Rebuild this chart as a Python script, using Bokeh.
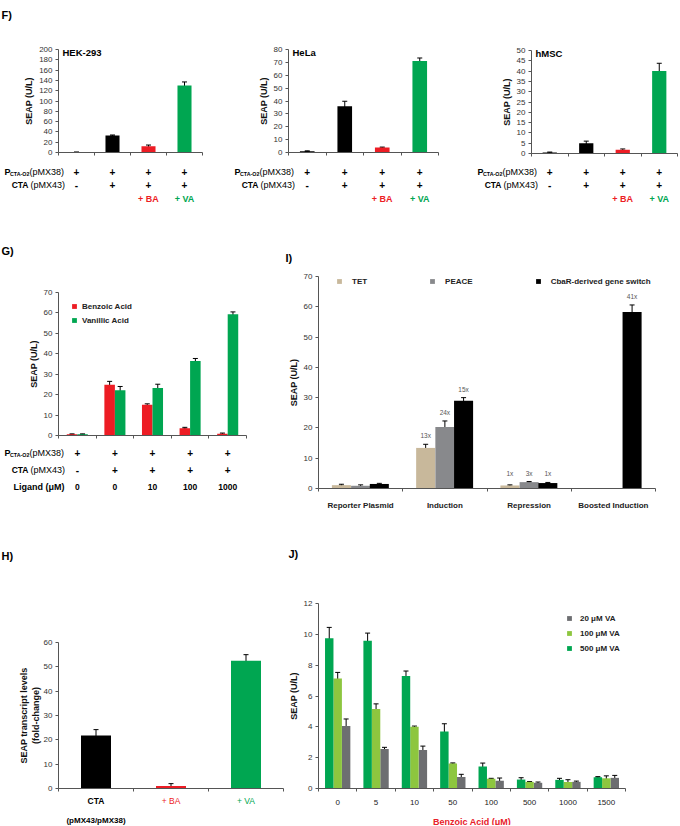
from bokeh.plotting import figure
from bokeh.models import (Range1d, ColumnDataSource, LabelSet, Whisker, TeeHead,
                          FixedTicker, SingleIntervalTicker, LinearAxis)
from bokeh.layouts import row, column
from bokeh.embed import file_html
from bokeh.resources import INLINE
from bokeh.core.properties import value, field

FONT = "Liberation Sans"
RED = "#ed1c24"
GREEN = "#00a651"
LIGHT_GREEN = "#8dc63f"
DARK_GREY = "#6d6e71"
TAN = "#c8b89b"
MID_GREY = "#88898c"
BLACK = "#000000"
AXIS = "#555555"
TICK_TXT = "#333333"

# ---------------- data ----------------
# F) cell lines
f_cells = ["HEK-293", "HeLa", "hMSC"]
f_row_pmx38 = ["+", "+", "+", "+"]
f_row_pmx43 = ["-", "+", "+", "+"]
f_row_ligand = ["", "", "+ BA", "+ VA"]
f_ligand_colors = [BLACK, BLACK, RED, GREEN]
f_bar_colors = [BLACK, BLACK, RED, GREEN]
hek_seap = [0.6, 33.0, 12.0, 130.0]
hek_err = [0.3, 1.0, 2.5, 7.0]
hela_seap = [1.0, 36.0, 3.8, 71.0]
hela_err = [0.3, 3.8, 0.4, 2.4]
hmsc_seap = [0.5, 5.0, 1.8, 40.0]
hmsc_err = [0.2, 1.0, 0.4, 3.8]
f_ymax = [200, 80, 50]
f_ystep = [20, 10, 5]

# G) ligand dose response
g_row_pmx38 = ["+", "+", "+", "+", "+"]
g_row_pmx43 = ["-", "+", "+", "+", "+"]
g_ligand_um = ["0", "0", "10", "100", "1000"]
g_benzoic = [0.6, 24.8, 15.0, 3.6, 0.9]
g_benzoic_err = [0.2, 1.7, 0.5, 0.4, 0.3]
g_vanillic = [0.6, 22.2, 23.2, 36.5, 59.4]
g_vanillic_err = [0.2, 1.8, 1.9, 1.2, 1.1]

# H) transcript levels
h_conditions = ["CTA", "+ BA", "+ VA"]
h_fold = [21.8, 1.0, 52.5]
h_fold_err = [2.4, 1.0, 2.5]
h_label_colors = [BLACK, RED, GREEN]
h_label_styles = ["bold", "normal", "normal"]

# I) comparison of gene switches
i_groups = ["Reporter Plasmid", "Induction", "Repression", "Boosted Induction"]
i_series = ["TET", "PEACE", "CbaR-derived gene switch"]
i_tet = [1.1, 13.4, 1.0, None]
i_tet_err = [0.3, 1.2, 0.2, None]
i_tet_fold = ["", "13x", "1x", ""]
i_peace = [0.9, 20.3, 2.1, None]
i_peace_err = [0.3, 2.0, 0.2, None]
i_peace_fold = ["", "24x", "3x", ""]
i_cbar = [1.5, 29.0, 1.8, 58.3]
i_cbar_err = [0.2, 1.0, 0.2, 2.3]
i_cbar_fold = ["", "15x", "1x", "41x"]

# J) BA titration
j_benzoic_um = ["0", "5", "10", "50", "100", "500", "1000", "1500"]
j_va_series = ["20 \u03bcM VA", "100 \u03bcM VA", "500 \u03bcM VA"]
j_va500 = [9.75, 9.58, 7.3, 3.7, 1.42, 0.58, 0.56, 0.73]
j_va500_err = [0.7, 0.5, 0.32, 0.5, 0.23, 0.12, 0.1, 0.04]
j_va100 = [7.14, 5.15, 4.0, 1.62, 0.63, 0.43, 0.42, 0.66]
j_va100_err = [0.39, 0.34, 0.05, 0.04, 0.03, 0.02, 0.15, 0.16]
j_va20 = [4.05, 2.57, 2.5, 0.74, 0.5, 0.37, 0.43, 0.69]
j_va20_err = [0.46, 0.1, 0.25, 0.18, 0.18, 0.05, 0.05, 0.16]


# ---------------- helpers ----------------
class Panel:
    """One figure whose frame fills the figure; the data box (0..x_end, 0..y_end)
    lands on page pixels fl..fr / fb..ft; axes are pinned at x=0 / y=0."""
    def __init__(self, left, top, width, height, fl, fr, ft, fb, x_end, y_end):
        self.left, self.top, self.width, self.height = left, top, width, height
        self.fl, self.fr, self.ft, self.fb = fl, fr, ft, fb
        self.x_end, self.y_end = x_end, y_end
        p = figure(width=width, height=height,
                   x_range=Range1d(self.X(left), self.X(left + width)),
                   y_range=Range1d(self.Y(top + height), self.Y(top)),
                   output_backend="svg", toolbar_location=None,
                   x_axis_location=None, y_axis_location=None,
                   min_border_left=0, min_border_right=0,
                   min_border_top=0, min_border_bottom=0)
        p.outline_line_color = None
        p.grid.visible = False
        self.yaxis = LinearAxis(fixed_location=0, bounds=(0, y_end))
        self.xaxis = LinearAxis(fixed_location=0, bounds=(0, x_end))
        p.add_layout(self.yaxis, "left")
        p.add_layout(self.xaxis, "below")
        self.p = p

    def X(self, px):
        return (px - self.fl) / (self.fr - self.fl) * self.x_end

    def Y(self, py):
        return (self.fb - py) / (self.fb - self.ft) * self.y_end


def texts(P, xs, ys, labels, size="9px", style="normal", colors=None,
          align="center", baseline="middle"):
    if colors is None:
        colors = [BLACK] * len(labels)
    src = ColumnDataSource(dict(x=xs, y=ys, text=labels, color=colors))
    ls = LabelSet(x="x", y="y", text="text", source=src,
                  text_font=value(FONT), text_font_size=size,
                  text_font_style=style, text_color=field("color"),
                  text_align=align, text_baseline=baseline)
    P.p.add_layout(ls)


def add_bars(P, xs, tops, errs, width, color, legend=None):
    keep = [i for i in range(len(xs)) if tops[i] is not None]
    x = [xs[i] for i in keep]
    t = [tops[i] for i in keep]
    e = [errs[i] for i in keep]
    cols = [color[i] for i in keep] if isinstance(color, list) else [color] * len(keep)
    src = ColumnDataSource(dict(x=x, top=t, color=cols,
                                upper=[a + b for a, b in zip(t, e)],
                                lower=[max(a - b, 0) for a, b in zip(t, e)]))
    kw = dict(legend_label=legend) if legend else {}
    P.p.vbar(x="x", top="top", width=width, fill_color="color",
             line_color=None, source=src, **kw)
    w = Whisker(source=src, base="x", upper="upper", lower="lower",
                line_color="black", line_width=1,
                upper_head=TeeHead(size=5, line_color="black", line_width=1),
                lower_head=TeeHead(size=5, line_color="black", line_width=1))
    P.p.add_layout(w)


def style_y(P, label, step, size="9px", standoff=2):
    ax = P.yaxis
    ax.ticker = SingleIntervalTicker(interval=step, num_minor_ticks=0)
    ax.axis_label = label
    ax.axis_label_text_font = FONT
    ax.axis_label_text_font_style = "bold"
    ax.axis_label_text_font_size = size
    ax.axis_label_text_color = "#111111"
    ax.axis_label_standoff = standoff
    ax.major_label_text_font = FONT
    ax.major_label_text_font_size = "8px"
    ax.major_label_text_color = TICK_TXT
    ax.major_label_standoff = 3
    ax.major_tick_in = 0
    ax.major_tick_out = 3
    ax.minor_tick_line_color = None
    ax.axis_line_color = AXIS
    ax.major_tick_line_color = AXIS


def style_x(P, n, labels=None, size="8px", bold=False, standoff=9):
    ax = P.xaxis
    bounds = list(range(n + 1))
    if labels is None:
        ax.ticker = FixedTicker(ticks=[], minor_ticks=bounds)
        ax.major_label_standoff = 0
    else:
        centers = [i + 0.5 for i in range(n)]
        ax.ticker = FixedTicker(ticks=centers, minor_ticks=bounds)
        ax.major_label_overrides = {c: l for c, l in zip(centers, labels)}
        ax.major_label_text_font = FONT
        ax.major_label_text_font_size = size
        ax.major_label_text_font_style = "bold" if bold else "normal"
        ax.major_label_text_color = "#222222"
        ax.major_label_standoff = standoff
    ax.major_tick_line_color = None
    ax.major_tick_in = 0
    ax.major_tick_out = 0
    ax.minor_tick_in = 0
    ax.minor_tick_out = 3
    ax.minor_tick_line_color = AXIS
    ax.axis_line_color = AXIS


def style_legend(P, left_px, top_px, n, orientation="vertical", spacing=2,
                 standoff=5, item_h=12):
    lg = P.p.legend[0]
    h = n * item_h + (n - 1) * spacing if orientation == "vertical" else item_h
    lg.location = (left_px - P.left, P.top + P.height - top_px - h)
    lg.orientation = orientation
    lg.label_text_font = FONT
    lg.label_text_font_size = "8px"
    lg.label_text_font_style = "bold"
    lg.label_text_color = "#222222"
    lg.glyph_width = 6
    lg.glyph_height = 6
    lg.label_standoff = standoff
    lg.label_height = item_h
    lg.label_width = 10
    lg.spacing = spacing
    lg.padding = 0
    lg.margin = 0
    lg.border_line_color = None
    lg.background_fill_alpha = 0


def row_headers(P, x0, y_p, y_cta):
    # "P" with subscript "CTA-O2", then "(pMX38)"; "CTA" right-aligned, then "(pMX43)"
    texts(P, [P.X(x0)], [P.Y(y_p)], ["P"], size="9px", style="bold", align="left")
    texts(P, [P.X(x0 + 5.5)], [P.Y(y_p + 2)], ["CTA-O2"], size="5.3px", style="bold",
          align="left")
    texts(P, [P.X(x0 + 25)], [P.Y(y_p)], ["(pMX38)"], size="9px", align="left")
    texts(P, [P.X(x0 + 24)], [P.Y(y_cta)], ["CTA"], size="8.5px", style="bold",
          align="right")
    texts(P, [P.X(x0 + 26)], [P.Y(y_cta)], ["(pMX43)"], size="9px", align="left")


def letter(P, px, py, t):
    texts(P, [P.X(px)], [P.Y(py)], [t], size="11px", style="bold", align="left")


# ---------------- F panels (row 1: y 0..212) ----------------
f_geoms = [(0, 226, 58, 202, 49, 152),
           (226, 225, 288, 438, 49, 152),
           (451, 228, 531, 677, 50, 153)]
f_data = [(hek_seap, hek_err), (hela_seap, hela_err), (hmsc_seap, hmsc_err)]
f_figs = []
for k in range(3):
    left, width, fl, fr, ft, fb = f_geoms[k]
    n = len(f_row_pmx38)
    P = Panel(left, 0, width, 212, fl, fr, ft, fb, n, f_ymax[k])
    xs = [i + 0.5 for i in range(n)]
    vals, errs = f_data[k]
    add_bars(P, xs, vals, errs, 0.39, f_bar_colors)
    style_y(P, "SEAP (U/L)", f_ystep[k])
    style_x(P, n)
    texts(P, [P.X(fl + 4)], [P.Y(ft + 3)], [f_cells[k]], size="9.5px", style="bold",
          align="left")
    row_headers(P, fl - 54, 171, 184)
    texts(P, xs, [P.Y(171)] * n, f_row_pmx38, size="10px", style="bold")
    texts(P, xs, [P.Y(184)] * n, f_row_pmx43, size="10px", style="bold")
    texts(P, xs, [P.Y(198)] * n, f_row_ligand, size="9px", style="bold", colors=f_ligand_colors)
    if k == 0:
        letter(P, 1, 14, "F)")
    f_figs.append(P.p)

# ---------------- G panel (row 2: y 212..515) ----------------
ng = len(g_ligand_um)
G = Panel(0, 212, 250, 303, 58, 246, 292, 435, ng, 70)
gx = [i + 0.5 for i in range(ng)]
add_bars(G, [x - 0.14 for x in gx], g_benzoic, g_benzoic_err, 0.28, RED, "Benzoic Acid")
add_bars(G, [x + 0.14 for x in gx], g_vanillic, g_vanillic_err, 0.28, GREEN, "Vanillic Acid")
style_y(G, "SEAP (U/L)", 10)
style_x(G, ng)
style_legend(G, 71, 300, 2, spacing=2)
letter(G, 1, 250, "G)")
row_headers(G, 4, 452, 469)
texts(G, [G.X(64)], [G.Y(486)], ["Ligand (\u03bcM)"], size="9px", style="bold", align="right")
texts(G, gx, [G.Y(452)] * ng, g_row_pmx38, size="10px", style="bold")
texts(G, gx, [G.Y(469)] * ng, g_row_pmx43, size="10px", style="bold")
texts(G, gx, [G.Y(486)] * ng, g_ligand_um, size="8.5px", style="bold")

# ---------------- I panel ----------------
ni = len(i_groups)
I = Panel(250, 212, 429, 303, 318, 655, 276, 488, ni, 70)
ix = [i + 0.5 for i in range(ni)]
i_vals = [(i_tet, i_tet_err, i_tet_fold, TAN, -0.228),
          (i_peace, i_peace_err, i_peace_fold, MID_GREY, 0.0),
          (i_cbar, i_cbar_err, i_cbar_fold, BLACK, 0.222)]
for (vals, errs, folds, col, off), name in zip(i_vals, i_series):
    xs = [x + off for x in ix]
    add_bars(I, xs, vals, errs, 0.226, col, name)
    fx, fy, ft = [], [], []
    for x, v, e, f in zip(xs, vals, errs, folds):
        if f:
            fx.append(x)
            fy.append(max(v + e, 2.2) + 2.8)
            ft.append(f)
    texts(I, fx, fy, ft, size="6.5px", colors=["#555555"] * len(ft))
style_y(I, "SEAP (U/L)", 10)
style_x(I, ni, labels=i_groups, size="8px", bold=True, standoff=9)
style_legend(I, 336, 275, 3, orientation="horizontal", spacing=62, standoff=10)
letter(I, 285, 257, "I)")

# ---------------- H panel (row 3: y 515..825) ----------------
nh = len(h_conditions)
H = Panel(0, 515, 284, 310, 58, 283, 642, 788, nh, 60)
hx = [i + 0.5 for i in range(nh)]
add_bars(H, hx, h_fold, h_fold_err, 0.4, h_label_colors)
style_y(H, "SEAP transcript levels\n(fold-change)", 10, standoff=0)
style_x(H, nh)
letter(H, 1, 555, "H)")
for x, t, c, s in zip(hx, h_conditions, h_label_colors, h_label_styles):
    texts(H, [x], [H.Y(800)], [t], size="8.5px", style=s, colors=[c])
texts(H, [hx[0]], [H.Y(820)], ["(pMX43/pMX38)"], size="8px", style="bold")

# ---------------- J panel ----------------
nj = len(j_benzoic_um)
J = Panel(284, 515, 395, 310, 318, 625, 603, 788, nj, 12)
jx = [i + 0.5 for i in range(nj)]
j_sets = [(j_va20, j_va20_err, DARK_GREY, 0.22),
          (j_va100, j_va100_err, LIGHT_GREEN, 0.0),
          (j_va500, j_va500_err, GREEN, -0.22)]
for (vals, errs, col, off), name in zip(j_sets, j_va_series):
    add_bars(J, [x + off for x in jx], vals, errs, 0.22, col, name)
style_y(J, "SEAP (U/L)", 2)
style_x(J, nj, labels=j_benzoic_um, size="8px", standoff=8)
jax = J.xaxis
jax.axis_label = "Benzoic Acid (\u03bcM)"
jax.axis_label_text_font = FONT
jax.axis_label_text_font_style = "bold"
jax.axis_label_text_font_size = "9px"
jax.axis_label_text_color = "#e8202a"
jax.axis_label_standoff = 9
style_legend(J, 566, 612, 3, spacing=3, standoff=8)
letter(J, 288, 553, "J)")

layout = column(row(*f_figs), row(G.p, I.p), row(H.p, J.p))
open("out.html", "w").write(file_html(layout, INLINE))
